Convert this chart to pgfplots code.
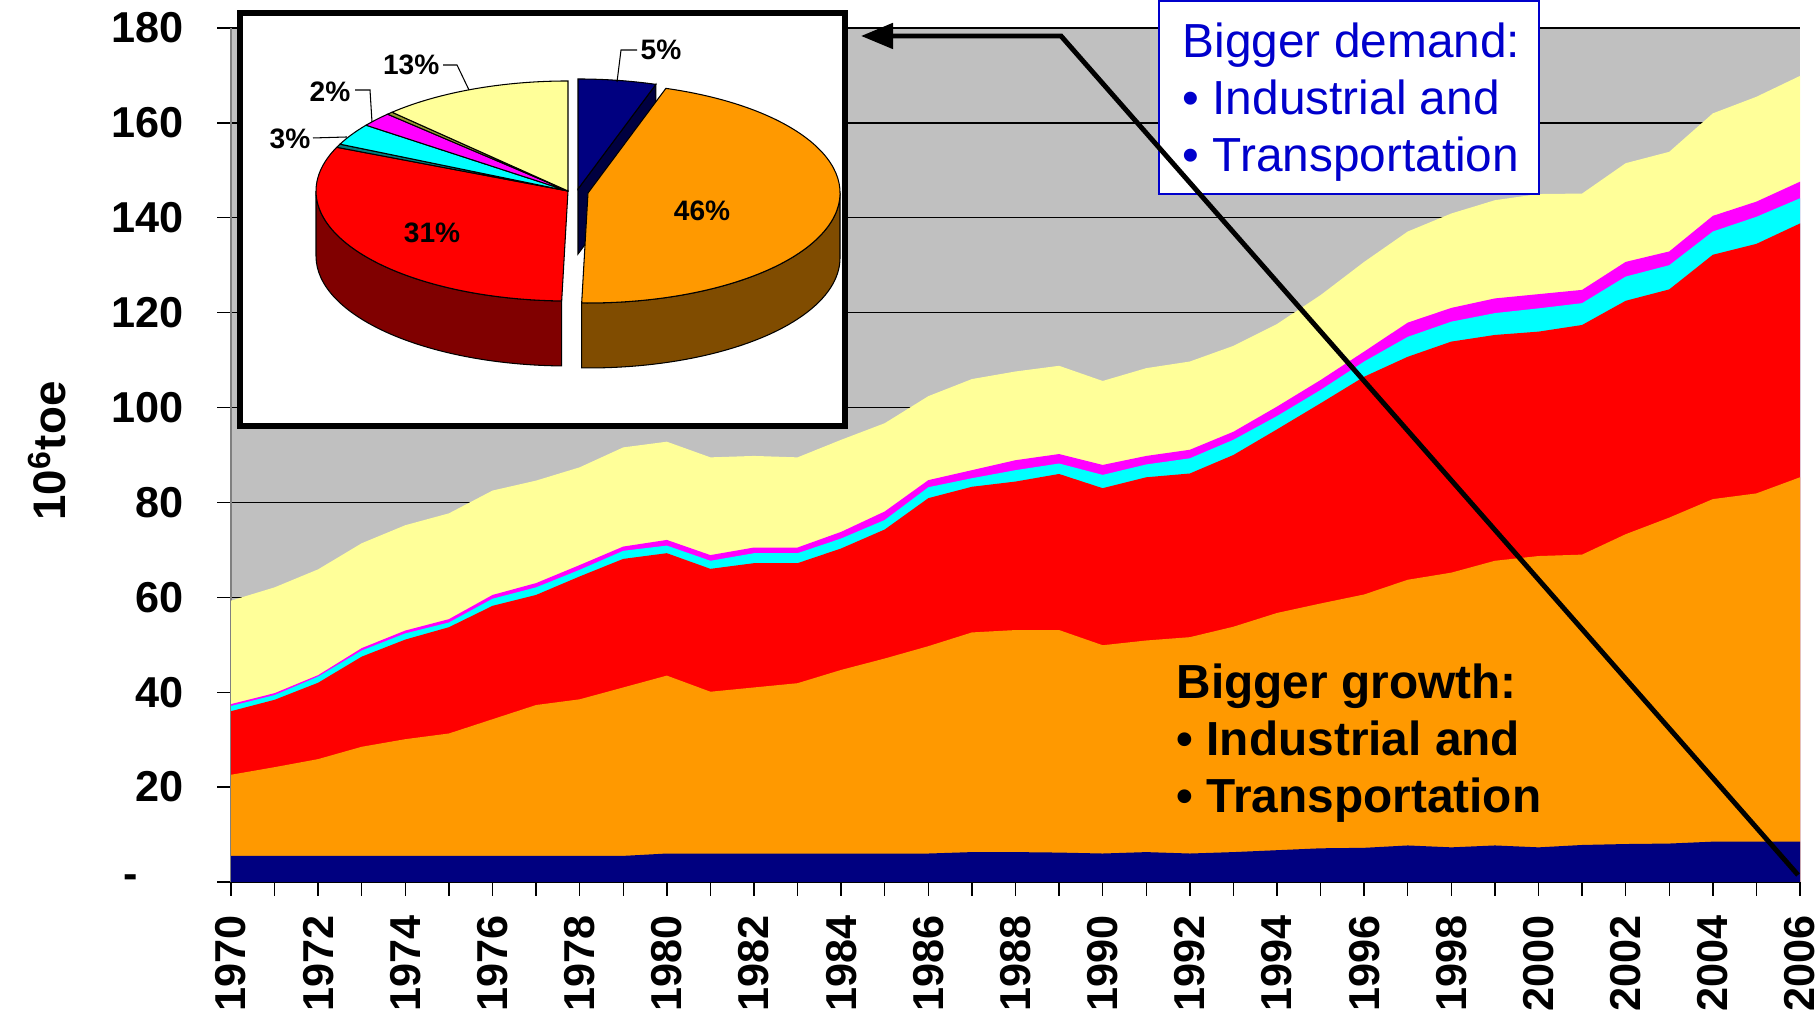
\documentclass[border=0pt]{standalone}
\usepackage{fontspec}
\setmainfont{Liberation Sans}
\usepackage{pgfplots}
\pgfplotsset{compat=1.18}
\usepackage{pgfplotstable}
\usetikzlibrary{arrows.meta}

\definecolor{xlnavy}{HTML}{000080}
\definecolor{xlorange}{HTML}{FF9900}
\definecolor{xlred}{HTML}{FF0000}
\definecolor{xlcyan}{HTML}{00FFFF}
\definecolor{xlmagenta}{HTML}{FF00FF}
\definecolor{xlyellow}{HTML}{FFFF99}
\definecolor{xlgray}{HTML}{C0C0C0}
\definecolor{xlteal}{HTML}{008080}
\definecolor{xlolive}{HTML}{999933}
\definecolor{sideorange}{HTML}{804C00}
\definecolor{sidered}{HTML}{800000}
\definecolor{sidenavy}{HTML}{000040}
\definecolor{txtblue}{HTML}{0000CC}

% stacked levels (cumulative tops of each band), 10^6 toe
\pgfplotstableread{
year navy orange red cyan magenta total
1970 5.5 22.6 36.0 37.1 37.5 59.3
1971 5.5 24.2 38.4 39.4 39.8 62.1
1972 5.5 25.9 42.0 43.3 43.6 65.9
1973 5.5 28.5 47.5 48.8 49.3 71.4
1974 5.5 30.1 51.1 52.4 53.0 75.2
1975 5.5 31.3 53.7 54.7 55.4 77.7
1976 5.5 34.3 58.2 59.7 60.5 82.5
1977 5.5 37.3 60.5 62.1 63.0 84.6
1978 5.5 38.5 64.4 65.8 66.8 87.4
1979 5.5 41.0 68.1 69.8 70.7 91.6
1980 6.0 43.5 69.3 70.9 72.1 92.8
1981 6.0 40.1 66.0 67.7 68.9 89.5
1982 6.0 41.0 67.2 69.3 70.5 89.8
1983 6.0 41.9 67.2 69.3 70.5 89.5
1984 6.0 44.7 70.3 72.4 73.8 93.2
1985 6.0 47.1 74.3 76.3 78.1 96.7
1986 6.0 49.7 80.9 83.2 84.7 102.4
1987 6.3 52.6 83.3 85.1 86.8 106.0
1988 6.3 53.1 84.4 86.8 88.9 107.6
1989 6.2 53.1 86.0 88.2 90.2 108.8
1990 6.0 49.9 83.0 85.8 87.9 105.6
1991 6.3 50.9 85.3 88.0 89.8 108.3
1992 6.0 51.6 86.1 89.3 91.1 109.7
1993 6.3 53.8 90.0 93.2 94.9 113.0
1994 6.7 56.7 95.4 98.2 100.2 117.6
1995 7.1 58.7 100.9 103.7 105.8 123.7
1996 7.2 60.6 106.5 109.7 111.8 130.7
1997 7.7 63.7 110.7 114.9 117.9 137.1
1998 7.3 65.2 113.9 118.1 121.0 140.9
1999 7.7 67.7 115.3 119.9 123.0 143.7
2000 7.3 68.7 116.0 120.9 123.9 145.0
2001 7.8 69.0 117.4 122.0 124.8 145.1
2002 8.0 73.3 122.5 127.6 130.7 151.5
2003 8.1 76.8 124.9 130.0 132.9 153.9
2004 8.5 80.7 132.2 137.1 140.4 162.0
2005 8.5 81.9 134.5 140.2 143.4 165.5
2006 8.5 85.3 138.8 144.1 147.6 169.9
}\levels

% pie helpers: #1,#2 centre, #3,#4 start/end percent (clockwise from top), #5 colour
\newcommand\pietop[5]{%
  \filldraw[fill=#5, draw=black, line width=0.3pt]
    (#1,#2) -- ++({2.52*sin(3.6*#3)},{1.10*cos(3.6*#3)})
    arc[start angle={90-3.6*#3}, end angle={90-3.6*#4}, x radius=2.52cm, y radius=1.10cm] -- cycle;}
\newcommand\piewall[5]{%
  \filldraw[fill=#5, draw=black, line width=0.3pt]
    ({#1+2.52*sin(3.6*#3)},{#2+1.10*cos(3.6*#3)})
    arc[start angle={90-3.6*#3}, end angle={90-3.6*#4}, x radius=2.52cm, y radius=1.10cm]
    -- ++(0,-0.65)
    arc[start angle={90-3.6*#4}, end angle={90-3.6*#3}, x radius=2.52cm, y radius=1.10cm] -- cycle;}

\begin{document}
\begin{tikzpicture}
\useasboundingbox (0,0) rectangle (18.19,10.14);
\fill[white] (0,0) rectangle (18.19,10.14);

\begin{axis}[
  at={(2.31cm,1.32cm)}, anchor=south west,
  scale only axis, width=15.69cm, height=8.54cm,
  xmin=1970, xmax=2006, ymin=0, ymax=180,
  axis background/.style={fill=xlgray},
  axis x line*=bottom, axis y line*=left,
  x axis line style={black, line width=0.5pt},
  y axis line style={gray, line width=0.5pt},
  xtick={1970,1972,...,2006}, minor xtick={1971,1973,...,2005},
  ytick={0,20,...,180},
  yticklabels={{\makebox[0.60cm][l]{-}},20,40,60,80,100,120,140,160,180},
  tick align=outside, major tick length=0.14cm, minor tick length=0.14cm,
  tick style={black, line width=0.4pt},
  ymajorgrids, major grid style={black, line width=0.4pt},
  xticklabel shift=0.07cm, yticklabel shift=0.21cm,
  /pgf/number format/assume math mode=true,
  x tick label style={rotate=90, anchor=east, font=\bfseries\fontsize{12.3}{14}\selectfont,
    /pgf/number format/1000 sep={}},
  y tick label style={font=\bfseries\fontsize{12.3}{14}\selectfont},
]
\addplot[fill=xlyellow, draw=none] table[x=year, y=total]{\levels} \closedcycle;
\addplot[fill=xlmagenta, draw=none] table[x=year, y=magenta]{\levels} \closedcycle;
\addplot[fill=xlcyan, draw=none] table[x=year, y=cyan]{\levels} \closedcycle;
\addplot[fill=xlred, draw=none] table[x=year, y=red]{\levels} \closedcycle;
\addplot[fill=xlorange, draw=none] table[x=year, y=orange]{\levels} \closedcycle;
\addplot[fill=xlnavy, draw=none] table[x=year, y=navy]{\levels} \closedcycle;
\end{axis}

\node[rotate=90, inner sep=0] at (0.47,5.63)
  {\bfseries\fontsize{13}{15}\selectfont 10\textsuperscript{6}toe};

% inset: 2006 shares
\filldraw[fill=white, draw=black, line width=1.6pt] (2.40,10.01) rectangle (8.45,5.88);
\piewall{5.88}{8.21}{25}{50.4}{sideorange}
\piewall{5.68}{8.23}{50.4}{75}{sidered}
\filldraw[fill=sidenavy, draw=black, line width=0.3pt]
  (5.78,8.25) -- ({5.78+2.52*sin(18)},{8.25+1.10*cos(18)}) -- ++(0,-0.65) -- (5.78,7.60) -- cycle;
\foreach \cx/\cy/\a/\b/\c in {5.78/8.25/0/5/xlnavy, 5.88/8.21/5/50.4/xlorange,
    5.68/8.23/50.4/81.5/xlred, 5.68/8.23/81.5/82/xlteal, 5.68/8.23/82/85.2/xlcyan,
    5.68/8.23/85.2/87.3/xlmagenta, 5.68/8.23/87.3/87.7/xlolive, 5.68/8.23/87.7/100/xlyellow}
  {\pietop{\cx}{\cy}{\a}{\b}{\c}}
\begin{scope}[font=\bfseries\fontsize{8}{9}\selectfont, inner sep=0]
  \node at (7.02,8.03) {46\%};
  \node at (4.32,7.81) {31\%};
  \node[anchor=west] at (6.40,9.64) {5\%};
  \node[anchor=east] at (4.40,9.49) {13\%};
  \node[anchor=east] at (3.51,9.22) {2\%};
  \node[anchor=east] at (3.11,8.75) {3\%};
  \draw[line width=0.3pt] (6.17,9.32) -- (6.21,9.64) -- (6.37,9.64);
  \draw[line width=0.3pt] (4.43,9.49) -- (4.57,9.49) -- (4.69,9.24);
  \draw[line width=0.3pt] (3.55,9.24) -- (3.70,9.24) -- (3.72,8.92);
  \draw[line width=0.3pt] (3.13,8.76) -- (3.47,8.77);
\end{scope}

% demand box
\filldraw[fill=white, draw=txtblue, line width=0.8pt] (11.59,10.13) rectangle (15.39,8.20);
\begin{scope}[font=\fontsize{13.6}{16}\selectfont, inner sep=0, anchor=base west, text=txtblue]
  \node at (11.82,9.56) {Bigger demand:};
  \node at (11.82,8.99) {• Industrial and};
  \node at (11.82,8.42) {• Transportation};
\end{scope}

% growth text
\begin{scope}[font=\bfseries\fontsize{13.6}{16}\selectfont, inner sep=0, anchor=base west]
  \node at (11.76,3.15) {Bigger growth:};
  \node at (11.76,2.58) {• Industrial and};
  \node at (11.76,2.01) {• Transportation};
\end{scope}

% arrow from 2006 to the inset
\draw[line width=1.4pt, -{Triangle[length=0.32cm, width=0.25cm]}]
  (17.98,1.39) -- (10.61,9.78) -- (8.61,9.78);
\end{tikzpicture}
\end{document}
